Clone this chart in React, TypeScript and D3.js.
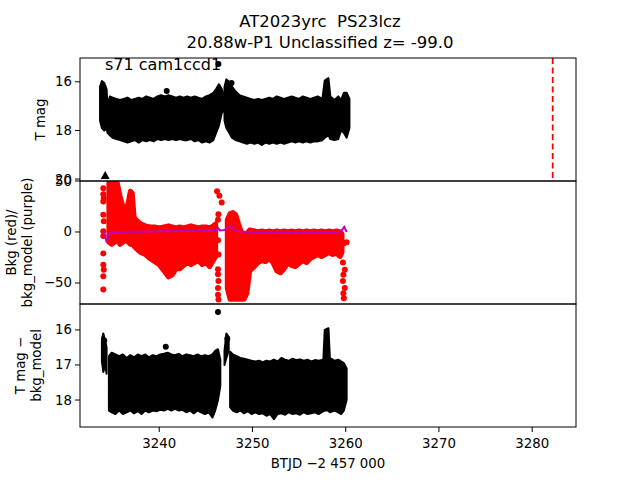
import React from 'react';
import * as d3 from 'd3';

// envelopes of the dense light curve: [btjd, upper mag, lower mag]
const tmagSegA: [number, number, number][] = [
  [3233.65, 16.2, 17.6], [3233.85, 15.97, 17.9], [3234.1, 16.05, 18.0], [3234.35, 16.3, 17.9],
  [3234.45, 17.0, 18.1], [3234.7, 16.6, 18.2], [3235.0, 16.65, 18.3], [3235.4, 16.7, 18.35],
  [3235.8, 16.75, 18.4], [3236.2, 16.7, 18.45], [3236.6, 16.65, 18.5], [3237.0, 16.75, 18.45],
  [3237.4, 16.7, 18.4], [3237.8, 16.65, 18.5], [3238.2, 16.7, 18.4], [3238.6, 16.6, 18.45],
  [3239.0, 16.65, 18.4], [3239.4, 16.7, 18.45], [3239.8, 16.6, 18.35], [3240.2, 16.55, 18.4],
  [3240.6, 16.6, 18.35], [3241.0, 16.55, 18.4], [3241.4, 16.6, 18.35], [3241.8, 16.65, 18.4],
  [3242.2, 16.6, 18.35], [3242.6, 16.65, 18.4], [3243.0, 16.6, 18.4], [3243.4, 16.65, 18.35],
  [3243.8, 16.6, 18.45], [3244.2, 16.65, 18.4], [3244.6, 16.7, 18.5], [3245.0, 16.6, 18.45],
  [3245.4, 16.55, 18.5], [3245.8, 16.45, 18.4], [3246.1, 16.3, 18.1], [3246.4, 16.1, 17.8],
  [3246.7, 16.3, 17.3], [3246.9, 16.5, 17.2],
];
const tmagSegB: [number, number, number][] = [
  [3247.0, 16.2, 17.6], [3247.2, 15.9, 17.9], [3247.5, 16.0, 18.1], [3247.8, 16.2, 18.3],
  [3248.2, 16.4, 18.4], [3248.6, 16.55, 18.45], [3249.0, 16.6, 18.5], [3249.4, 16.65, 18.55],
  [3249.8, 16.7, 18.5], [3250.2, 16.75, 18.55], [3250.6, 16.7, 18.5], [3251.0, 16.75, 18.6],
  [3251.4, 16.7, 18.5], [3251.8, 16.65, 18.55], [3252.2, 16.7, 18.5], [3252.6, 16.6, 18.55],
  [3253.0, 16.65, 18.5], [3253.4, 16.7, 18.55], [3253.8, 16.65, 18.5], [3254.2, 16.6, 18.45],
  [3254.6, 16.65, 18.5], [3255.0, 16.7, 18.45], [3255.4, 16.6, 18.5], [3255.8, 16.65, 18.45],
  [3256.2, 16.7, 18.5], [3256.6, 16.65, 18.45], [3257.0, 16.6, 18.45], [3257.5, 16.7, 18.4],
  [3257.75, 15.95, 18.3], [3258.15, 15.85, 18.2], [3258.35, 16.6, 18.35], [3258.8, 16.75, 18.4],
  [3259.2, 16.6, 18.35], [3259.5, 16.75, 18.0], [3259.8, 16.45, 18.1], [3260.1, 16.45, 18.3],
  [3260.4, 16.7, 17.9],
];
const tmagDots: [number, number][] = [[3240.8, 16.38], [3246.35, 15.27], [3247.75, 16.05]];
const tmagLimits: [number, number][] = [[3234.2, 19.85]];
const fluxStartLine = 3282.2;

// background (red) envelopes: [btjd, upper, lower]
const bkgSegA: [number, number, number][] = [
  [3234.6, 48, -10], [3234.9, 50, -12], [3235.2, 50, -10], [3235.5, 48, -8], [3235.8, 35, -12],
  [3236.1, 25, -10], [3236.4, 20, -8], [3236.7, 30, -10], [3236.9, 40, -12], [3237.1, 38, -10],
  [3237.3, 15, -14], [3237.5, 12, -16], [3238.0, 8, -20], [3238.5, 6, -22], [3239.0, 5, -26],
  [3239.5, 5, -29], [3240.0, 4, -32], [3240.5, 5, -38], [3241.0, 6, -44], [3241.4, 5, -42],
  [3241.8, 4, -36], [3242.2, 5, -36], [3242.6, 4, -33], [3243.0, 5, -30], [3243.4, 6, -32],
  [3243.8, 5, -30], [3244.2, 4, -28], [3244.6, 5, -32], [3245.0, 5, -30], [3245.4, 4, -34],
  [3245.8, 6, -28], [3246.05, 8, -24],
];
const bkgSegB: [number, number, number][] = [
  [3247.3, 12, -55], [3247.6, 18, -66], [3247.9, 19, -66], [3248.2, 17, -66], [3248.5, 8, -66],
  [3248.8, 0, -66], [3249.1, -2, -66], [3249.4, -2, -60], [3249.7, 2, -38], [3250.2, 1, -34],
  [3250.6, 0, -30], [3251.0, 1, -28], [3251.4, 0, -29], [3251.8, 1, -26], [3252.2, 0, -30],
  [3252.6, 1, -38], [3253.0, 0, -40], [3253.4, 1, -36], [3253.8, 0, -30], [3254.2, 1, -33],
  [3254.6, 0, -34], [3255.0, 1, -31], [3255.4, 0, -28], [3255.8, 1, -30], [3256.2, 0, -26],
  [3256.6, 1, -24], [3257.0, 0, -22], [3257.4, 1, -24], [3257.8, 0, -22], [3258.2, 1, -20],
  [3258.6, 0, -22], [3259.0, 1, -21], [3259.4, 0, -24], [3259.6, -2, -20],
];
const bkgDots: [number, number][] = [
  [3234.0, 43], [3234.0, 37], [3234.05, 33], [3234.0, 30], [3234.0, 17], [3234.05, 10.5],
  [3234.0, 0.7], [3234.0, -4], [3234.0, -21], [3234.0, -32], [3234.05, -37], [3234.0, -43.5],
  [3234.0, -56.5],
  [3246.2, 40], [3246.45, 35.5], [3246.7, 29], [3246.35, 17.5], [3246.3, 12], [3246.3, -8],
  [3246.35, -22], [3246.3, -36.5], [3246.3, -41.5], [3246.35, -48], [3246.3, -55],
  [3246.3, -61.5], [3246.35, -66.3],
  [3259.8, -11], [3259.7, -30], [3259.9, -37], [3259.75, -42], [3259.7, -48], [3259.9, -55],
  [3259.75, -60], [3259.8, -65], [3260.1, -10],
];
const bkgModel: [number, number][] = [
  [3234.0, 0], [3234.2, -4], [3234.35, -10], [3234.5, -5], [3234.7, -1], [3235.5, 0],
  [3237.0, 0.3], [3239.0, 0.5], [3241.0, 0.8], [3243.0, 1], [3245.0, 1.2], [3246.1, 1.5],
  [3246.3, 4], [3246.5, 1.5], [3247.0, 2], [3247.4, 5], [3247.7, 6], [3248.0, 2],
  [3248.5, 0.5], [3250.0, 0], [3252.0, -0.3], [3254.0, -0.5], [3256.0, -0.5], [3258.0, -0.5],
  [3259.3, -0.3], [3259.6, 2], [3259.85, 5], [3260.1, 0],
];

// T mag - bkg_model envelopes
const diffPre: [number, number, number][] = [
  [3233.85, 16.25, 16.9], [3234.0, 16.1, 17.2], [3234.2, 16.3, 17.0], [3234.35, 16.5, 17.25],
];
const diffSegA: [number, number, number][] = [
  [3234.6, 16.75, 18.3], [3234.9, 16.65, 18.35], [3235.3, 16.7, 18.4], [3235.7, 16.75, 18.3],
  [3236.1, 16.7, 18.4], [3236.5, 16.8, 18.35], [3236.9, 16.72, 18.3], [3237.3, 16.78, 18.38],
  [3237.7, 16.7, 18.32], [3238.1, 16.75, 18.4], [3238.5, 16.7, 18.3], [3238.9, 16.78, 18.35],
  [3239.3, 16.72, 18.3], [3239.7, 16.75, 18.32], [3240.1, 16.7, 18.28], [3240.5, 16.68, 18.3],
  [3240.9, 16.65, 18.25], [3241.3, 16.7, 18.3], [3241.7, 16.72, 18.25], [3242.1, 16.68, 18.3],
  [3242.5, 16.75, 18.28], [3242.9, 16.7, 18.35], [3243.3, 16.72, 18.3], [3243.7, 16.75, 18.38],
  [3244.1, 16.7, 18.3], [3244.5, 16.75, 18.35], [3244.9, 16.72, 18.4], [3245.3, 16.75, 18.35],
  [3245.7, 16.7, 18.5], [3246.0, 16.6, 18.3], [3246.3, 16.55, 18.0], [3246.55, 16.85, 17.6],
];
const diffTail: [number, number, number][] = [
  [3247.0, 16.6, 17.0], [3247.2, 16.1, 16.8], [3247.45, 16.2, 16.6],
];
const diffSegB: [number, number, number][] = [
  [3247.6, 16.62, 18.2], [3247.9, 16.7, 18.3], [3248.3, 16.75, 18.35], [3248.7, 16.8, 18.3],
  [3249.1, 16.82, 18.38], [3249.5, 16.85, 18.32], [3249.9, 16.88, 18.4], [3250.3, 16.9, 18.35],
  [3250.7, 16.88, 18.4], [3251.1, 16.92, 18.38], [3251.5, 16.88, 18.45], [3251.9, 16.9, 18.4],
  [3252.3, 16.85, 18.55], [3252.7, 16.9, 18.4], [3253.1, 16.8, 18.38], [3253.5, 16.85, 18.42],
  [3253.9, 16.88, 18.35], [3254.3, 16.82, 18.4], [3254.7, 16.86, 18.38], [3255.1, 16.84, 18.42],
  [3255.5, 16.88, 18.35], [3255.9, 16.85, 18.4], [3256.3, 16.9, 18.38], [3256.7, 16.86, 18.35],
  [3257.1, 16.88, 18.4], [3257.6, 16.85, 18.32], [3257.75, 16.0, 18.3], [3258.15, 15.95, 18.3],
  [3258.3, 16.8, 18.35], [3258.8, 16.88, 18.3], [3259.2, 16.85, 18.35], [3259.5, 16.9, 18.4],
  [3259.8, 16.95, 18.3], [3260.1, 17.1, 18.0],
];
const diffDots: [number, number][] = [[3240.7, 16.48], [3246.3, 15.49], [3234.1, 16.3], [3247.3, 16.25]];

const xTicks = [3240, 3250, 3260, 3270, 3280];
const magTicks1 = [16, 18, 20];
const bkgTicks = [50, 0, -50];
const magTicks3 = [16, 17, 18];

const W = 640;
const H = 480;
const left = 80;
const right = 576;
const panels = [
  { top: 58, bottom: 181 },
  { top: 181, bottom: 304 },
  { top: 304, bottom: 427 },
];
const font = 'DejaVu Sans, sans-serif';
const fmt = (v: number) => (v < 0 ? '\u2212' + Math.abs(v) : String(v));

export default function App() {
  const x = d3.scaleLinear().domain([3231.5, 3284.7]).range([left, right]);
  const y1 = d3.scaleLinear().domain([15.02, 20.08]).range([panels[0].top, panels[0].bottom]);
  const y2 = d3.scaleLinear().domain([50, -70.6]).range([panels[1].top, panels[1].bottom]);
  const y3 = d3.scaleLinear().domain([15.26, 18.77]).range([panels[2].top, panels[2].bottom]);

  const band = (y: d3.ScaleLinear<number, number>) =>
    d3.area<[number, number, number]>()
      .x(d => x(d[0]))
      .y0(d => y(d[2]))
      .y1(d => y(d[1]));

  const modelLine = d3.line<[number, number]>().x(d => x(d[0])).y(d => y2(d[1]));

  const yAxis = (ticks: number[], y: d3.ScaleLinear<number, number>) =>
    ticks.map(t => (
      <g key={t}>
        <line x1={left - 5} x2={left} y1={y(t)} y2={y(t)} stroke="#000" strokeWidth={1} />
        <text x={left - 8} y={y(t)} textAnchor="end" dominantBaseline="central" fontSize={13.3}>
          {fmt(t)}
        </text>
      </g>
    ));

  const tri = (cx: number, cy: number) => `M${cx},${cy - 4.5}L${cx + 4.5},${cy + 3.5}L${cx - 4.5},${cy + 3.5}Z`;

  return (
    <svg width={W} height={H} style={{ position: 'absolute', left: 0, top: 0, background: '#fff' }} fontFamily={font}>
      <defs>
        {panels.map((p, i) => (
          <clipPath id={`clip${i}`} key={i}>
            <rect x={left} y={p.top} width={right - left} height={p.bottom - p.top} />
          </clipPath>
        ))}
      </defs>

      <text x={320} y={27} textAnchor="middle" fontSize={16.5} style={{ whiteSpace: 'pre' }}>AT2023yrc  PS23lcz</text>
      <text x={320} y={48} textAnchor="middle" fontSize={16.5}>20.88w-P1 Unclassified z= -99.0</text>

      {/* panel 1: T mag */}
      <g clipPath="url(#clip0)">
        {[tmagSegA, tmagSegB].map((s, i) => (
          <path key={i} d={band(y1)(s) || ''} fill="#000" stroke="#000" strokeWidth={2} strokeLinejoin="round" />
        ))}
        {tmagDots.map((d, i) => <circle key={i} cx={x(d[0])} cy={y1(d[1])} r={3} fill="#000" />)}
        {tmagLimits.map((d, i) => <path key={i} d={tri(x(d[0]), y1(d[1]))} fill="#000" />)}
        <line x1={x(fluxStartLine)} x2={x(fluxStartLine)} y1={panels[0].top} y2={panels[0].bottom}
          stroke="#ff0000" strokeWidth={1.8} strokeDasharray="6,3.5" />
      </g>
      <text x={105} y={70} fontSize={16}>s71 cam1ccd1</text>

      {/* panel 2: background */}
      <g clipPath="url(#clip1)">
        {[bkgSegA, bkgSegB].map((s, i) => (
          <path key={i} d={band(y2)(s) || ''} fill="#ff0000" stroke="#ff0000" strokeWidth={5} strokeLinejoin="round" />
        ))}
        {bkgDots.map((d, i) => <circle key={i} cx={x(d[0])} cy={y2(d[1])} r={3} fill="#ff0000" />)}
        <path d={modelLine(bkgModel) || ''} fill="none" stroke="#bf00bf" strokeWidth={2} />
      </g>

      {/* panel 3: T mag - bkg_model */}
      <g clipPath="url(#clip2)">
        {[diffPre, diffSegA, diffTail, diffSegB].map((s, i) => (
          <path key={i} d={band(y3)(s) || ''} fill="#000" stroke="#000" strokeWidth={2} strokeLinejoin="round" />
        ))}
        {diffDots.map((d, i) => <circle key={i} cx={x(d[0])} cy={y3(d[1])} r={3} fill="#000" />)}
      </g>

      {/* frames and axes */}
      {panels.map((p, i) => (
        <rect key={i} x={left} y={p.top} width={right - left} height={p.bottom - p.top} fill="none" stroke="#000" strokeWidth={1} />
      ))}
      {yAxis(magTicks1, y1)}
      {yAxis(bkgTicks, y2)}
      {yAxis(magTicks3, y3)}
      {xTicks.map(t => (
        <g key={t}>
          <line x1={x(t)} x2={x(t)} y1={panels[2].bottom} y2={panels[2].bottom + 5} stroke="#000" strokeWidth={1} />
          <text x={x(t)} y={448} textAnchor="middle" fontSize={13.3}>{t}</text>
        </g>
      ))}
      <text x={(left + right) / 2} y={468} textAnchor="middle" fontSize={13.3}>BTJD {'\u2212'}2 457 000</text>

      <text transform="translate(40,119.5) rotate(-90)" textAnchor="middle" dominantBaseline="central" fontSize={13.3}>T mag</text>
      <text transform="translate(11,242.5) rotate(-90)" textAnchor="middle" dominantBaseline="central" fontSize={13.3}>Bkg (red)/</text>
      <text transform="translate(27,242.5) rotate(-90)" textAnchor="middle" dominantBaseline="central" fontSize={13.3}>bkg_model (purple)</text>
      <text transform="translate(20,365.5) rotate(-90)" textAnchor="middle" dominantBaseline="central" fontSize={13.3}>T mag {'\u2212'}</text>
      <text transform="translate(36,365.5) rotate(-90)" textAnchor="middle" dominantBaseline="central" fontSize={13.3}>bkg_model</text>
    </svg>
  );
}
